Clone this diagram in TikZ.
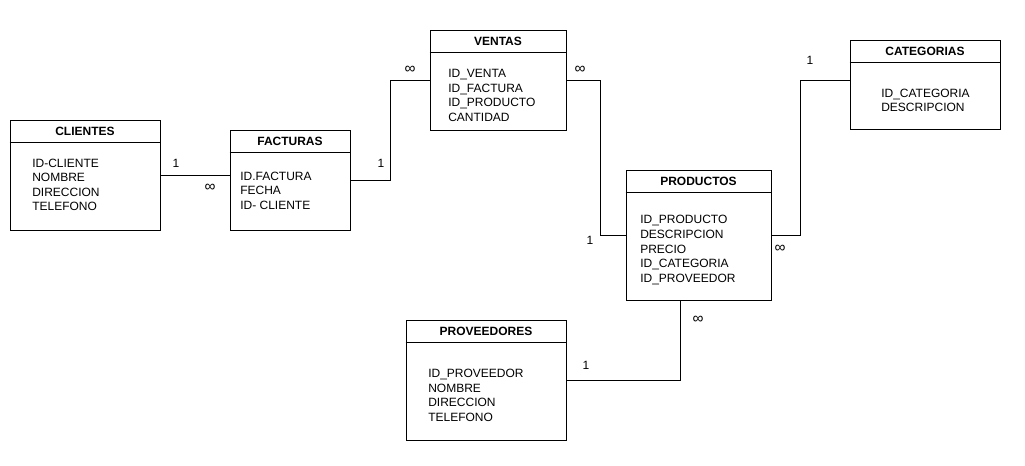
\documentclass[tikz,border=0pt]{standalone}
\usepackage{fontspec}
\setmainfont{Liberation Sans}
\usetikzlibrary{positioning}

\begin{document}
\begin{tikzpicture}[x=0.75pt,y=-0.75pt]

	\tikzstyle{table} = [
		draw,
		rectangle,
		line width=0.75pt,
		inner sep=0pt
	]
	\tikzstyle{title} = [
		inner sep=0pt,
		minimum height=17.25pt,
		font=\fontsize{9}{10.9}\selectfont\bfseries
	]
	\tikzstyle{attrs} = [
		inner sep=0pt,
		anchor=west,
		align=left,
		font=\fontsize{9}{10.9}\selectfont
	]
	\tikzstyle{card} = [
		inner sep=0pt,
		font=\fontsize{9}{10.9}\selectfont
	]
	\tikzstyle{many} = [
		inner sep=0pt,
		font=\fontsize{11.5}{12}\selectfont
	]
	\tikzstyle{link} = [
		line width=0.75pt
	]

	\useasboundingbox (0,0) rectangle (1025,465);

	\node (clientes) [style=table, minimum width=112.5pt, minimum height=82.5pt] at (85,175) {};
	\node (facturas) [style=table, minimum width=90pt, minimum height=75pt] at (290,180) {};
	\node (ventas) [style=table, minimum width=102pt, minimum height=75pt] at (498,80) {};
	\node (productos) [style=table, minimum width=108.75pt, minimum height=97.5pt] at (698.5,235) {};
	\node (categorias) [style=table, minimum width=112.5pt, minimum height=66.75pt] at (925,84.5) {};
	\node (proveedores) [style=table, minimum width=120pt, minimum height=90pt] at (486,380) {};

	\foreach \t in {clientes,facturas,ventas,productos,categorias,proveedores}
		\draw [style=link] ([yshift=-17.25pt]\t.north west) -- ([yshift=-17.25pt]\t.north east);

	\node (clientesT) [style=title, below=0pt of clientes.north] {CLIENTES};
	\node (facturasT) [style=title, below=0pt of facturas.north] {FACTURAS};
	\node (ventasT) [style=title, below=0pt of ventas.north] {VENTAS};
	\node (productosT) [style=title, below=0pt of productos.north] {PRODUCTOS};
	\node (categoriasT) [style=title, below=0pt of categorias.north] {CATEGORIAS};
	\node (proveedoresT) [style=title, below=0pt of proveedores.north] {PROVEEDORES};

	\node (clientesB) [style=attrs] at (32,185) {ID-CLIENTE\\NOMBRE\\DIRECCION\\TELEFONO};
	\node (facturasB) [style=attrs] at (240,190.5) {ID.FACTURA\\FECHA\\ID- CLIENTE};
	\node (ventasB) [style=attrs] at (448,95.5) {ID\_VENTA\\ID\_FACTURA\\ID\_PRODUCTO\\CANTIDAD};
	\node (productosB) [style=attrs] at (640,250) {ID\_PRODUCTO\\DESCRIPCION\\PRECIO\\ID\_CATEGORIA\\ID\_PROVEEDOR};
	\node (categoriasB) [style=attrs] at (881,100.5) {ID\_CATEGORIA\\DESCRIPCION};
	\node (proveedoresB) [style=attrs] at (428,395.5) {ID\_PROVEEDOR\\NOMBRE\\DIRECCION\\TELEFONO};

	\draw [style=link] (clientes.east) -- (clientes.east -| facturas.west);
	\draw [style=link] (facturas.east) -- ++(40,0) |- (ventas.west);
	\draw [style=link] (ventas.east) -- ++(34,0) |- (productos.west);
	\draw [style=link] (productos.east) -- ++(29,0) |- ([yshift=3pt]categorias.west);
	\draw [style=link] (proveedores.east) -| ([xshift=-13.5pt]productos.south);

	\node (c1) [style=card] at (176,163) {1};
	\node (f8) [style=many] at (210,188) {∞};
	\node (f1) [style=card] at (381,163) {1};
	\node (v8a) [style=many] at (410,70) {∞};
	\node (v8b) [style=many] at (580,70) {∞};
	\node (p1) [style=card] at (590,240) {1};
	\node (p8a) [style=many] at (780,249) {∞};
	\node (k1) [style=card] at (810,60) {1};
	\node (p8b) [style=many] at (698,320) {∞};
	\node (r1) [style=card] at (586,365) {1};

\end{tikzpicture}
\end{document}
